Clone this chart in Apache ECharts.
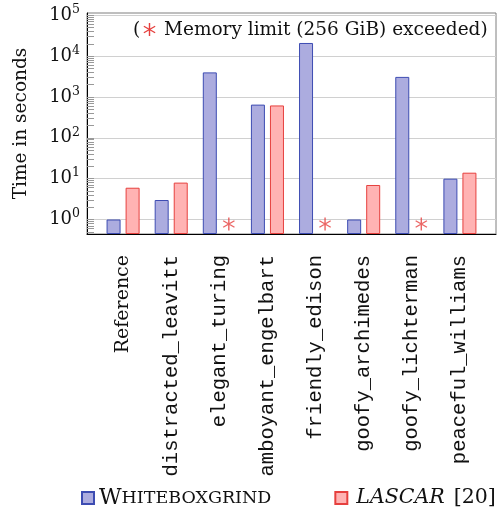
<!DOCTYPE html>
<html>
<head>
<meta charset="utf-8">
<script src="https://cdn.jsdelivr.net/npm/echarts@6/dist/echarts.min.js"></script>
<style>html,body{margin:0;padding:0;background:#fff}#c{width:500px;height:510px}</style>
</head>
<body>
<div id="c"></div>
<script>
// ---------- data ----------
const categories = ['Reference', 'distracted_leavitt', 'elegant_turing', 'amboyant_engelbart',
  'friendly_edison', 'goofy_archimedes', 'goofy_lichterman', 'peaceful_williams'];
const whiteboxgrind = [1, 3, 4000, 650, 21000, 1, 3100, 10];
const lascar = [6, 8, null, 620, null, 7, null, 14];
const memoryExceeded = [false, false, true, false, true, false, true, false];
const failMarkValue = 0.776;           // where the red asterisk sits (seconds)
const yTickExponents = [0, 1, 2, 3, 4, 5];
const minorMultipliers = [2, 3, 4, 5, 6, 7, 8, 9];
const seriesNames = ['Whiteboxgrind', 'LASCAR [20]'];

// log axis extent (in decades)
const LOG_BOTTOM = -0.355, LOG_TOP = 5.056;
const SPAN = LOG_TOP - LOG_BOTTOM;
const toAxis = v => (v == null ? null : Math.log10(v) - LOG_BOTTOM);

const majorPos = yTickExponents.map(e => e - LOG_BOTTOM);
const minorPos = [];
for (let e = -1; e <= 5; e++) {
  minorMultipliers.forEach(m => {
    const p = Math.log10(m) + e - LOG_BOTTOM;
    if (p >= 0 && p <= SPAN) minorPos.push(p);
  });
}

const serif = '"DejaVu Serif"';
const BLUE_FILL = '#acacdf', BLUE_LINE = '#3d4cb2';
const RED_FILL = '#ffb3b3', RED_LINE = '#e6403e';

// asterisk made of three bars (unit box -10..10)
const ARMS = [
  [[-1.1, -10], [1.1, -10], [1.1, 10], [-1.1, 10]],
  [[8.11, -5.953], [9.21, -4.047], [-8.11, 5.953], [-9.21, 4.047]],
  [[-9.21, -4.047], [-8.11, -5.953], [9.21, 4.047], [8.11, 5.953]]
];
const ASTERISK = ARMS.map(a => 'M' + a.map(p => p.join(',')).join('L') + 'Z').join('');

const chart = echarts.init(document.getElementById('c'), null, {renderer: 'canvas'});
chart.setOption({
  animation: false,
  backgroundColor: '#fff',
  grid: {left: 87, right: 4, top: 13, bottom: 276, show: true, borderColor: '#7f7f7f', borderWidth: 1},
  xAxis: {
    type: 'value', min: -0.75, max: 7.75,
    axisLine: {show: true, onZero: false, lineStyle: {color: '#000', width: 1}},
    axisTick: {show: false},
    splitLine: {show: false},
    axisLabel: {
      customValues: categories.map((c, i) => i),
      rotate: 90, margin: 21,
      formatter: v => {
        const n = categories[Math.round(v)];
        return n === 'Reference' ? '{s|' + n + '}' : '{m|' + n + '}';
      },
      rich: {
        m: {fontFamily: '"Liberation Mono"', fontSize: 20.5, color: '#111'},
        s: {fontFamily: serif, fontSize: 19, color: '#111'}
      }
    }
  },
  yAxis: [{
    type: 'value', min: 0, max: SPAN, position: 'left',
    name: 'Time in seconds', nameLocation: 'middle', nameGap: 56,
    nameTextStyle: {fontFamily: serif, fontSize: 18.5, color: '#111'},
    axisLine: {show: true, onZero: false, lineStyle: {color: '#000', width: 1}},
    axisTick: {show: true, inside: true, length: 7, customValues: majorPos, lineStyle: {color: '#999'}},
    splitLine: {show: true, lineStyle: {color: '#d0d0d0', width: 1}},
    axisLabel: {
      customValues: majorPos, margin: 7,
      formatter: v => '{b|10}{s|' + Math.round(v + LOG_BOTTOM) + '}',
      rich: {
        b: {fontFamily: serif, fontSize: 18, color: '#111'},
        s: {fontFamily: serif, fontSize: 12.5, color: '#111', padding: [0, 0, 11, 0]}
      }
    }
  }, {
    type: 'value', min: 0, max: SPAN, position: 'left',
    axisLine: {show: false, onZero: false},
    axisLabel: {show: false},
    splitLine: {show: false},
    axisTick: {show: true, inside: true, length: 7, customValues: minorPos, lineStyle: {color: '#999'}}
  }],
  legend: {
    left: 81, top: 487, padding: 0, icon: 'rect', itemWidth: 12, itemHeight: 12, itemGap: 63,
    data: seriesNames,
    formatter: name => name === 'Whiteboxgrind'
      ? '{w|W}{c|HITEBOXGRIND}'
      : '{i|LASCAR}{n|[20]}',
    textStyle: {
      rich: {
        w: {fontFamily: serif, fontSize: 22, color: '#111'},
        c: {fontFamily: serif, fontSize: 17.5, color: '#111'},
        i: {fontFamily: serif, fontStyle: 'italic', fontSize: 20.5, color: '#111', padding: [0, 0, 0, 4]},
        n: {fontFamily: serif, fontSize: 20.5, color: '#111', padding: [0, 0, 0, 9]}
      }
    }
  },
  graphic: [
    {type: 'text', x: 133, y: 30, z: 10, style: {text: '(', font: '18.5px ' + serif, fill: '#111', verticalAlign: 'middle'}},
    {type: 'group', x: 149.5, y: 29.5, scaleX: 0.65, scaleY: 0.65, z: 10,
      children: ARMS.map(a => ({type: 'polygon', shape: {points: a}, style: {fill: RED_LINE}}))},
    {type: 'text', x: 164, y: 30, z: 10, style: {text: 'Memory limit (256 GiB) exceeded)', font: '18.5px ' + serif, fill: '#111', verticalAlign: 'middle'}}
  ],
  series: [
    {
      name: seriesNames[0], type: 'bar', barWidth: 14, barGap: '36%',
      itemStyle: {color: BLUE_FILL, borderColor: BLUE_LINE, borderWidth: 1},
      data: whiteboxgrind.map((v, i) => [i, toAxis(v)])
    },
    {
      name: seriesNames[1], type: 'bar', barWidth: 14, barGap: '36%',
      itemStyle: {color: RED_FILL, borderColor: RED_LINE, borderWidth: 1},
      data: lascar.map((v, i) => [i, toAxis(v)])
    },
    {
      type: 'scatter', symbol: 'path://' + ASTERISK, symbolSize: [12, 13], symbolOffset: [9.5, 0],
      itemStyle: {color: RED_LINE}, silent: true, z: 5, clip: false,
      data: memoryExceeded.map((f, i) => f ? [i, toAxis(failMarkValue)] : null).filter(d => d)
    }
  ]
});
</script>
</body>
</html>
